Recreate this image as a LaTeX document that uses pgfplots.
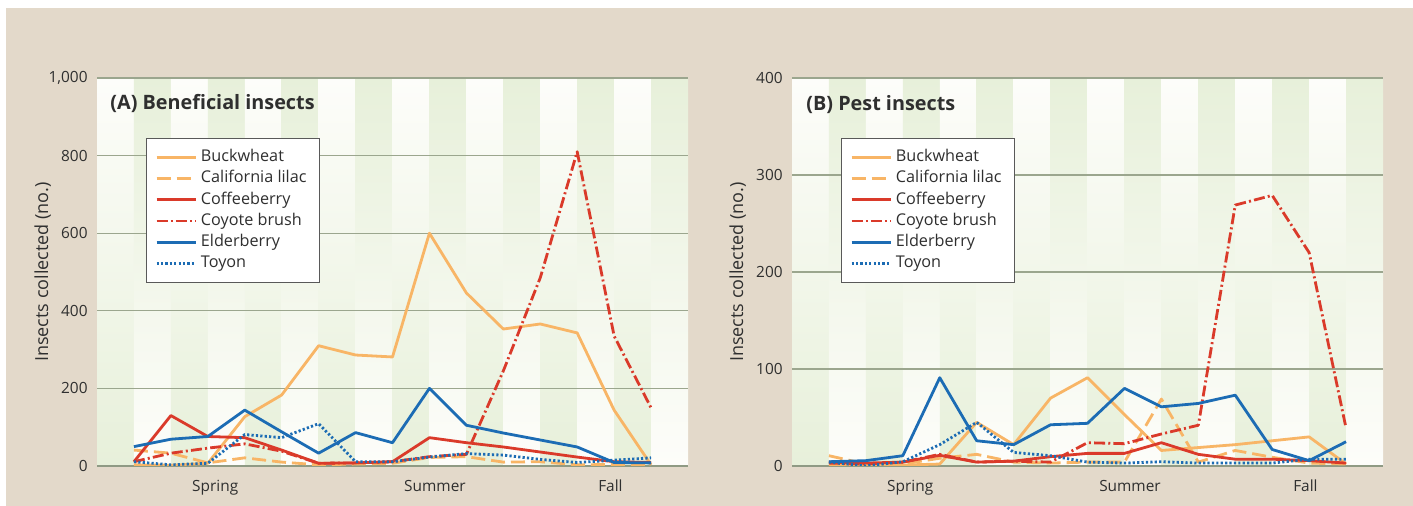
\documentclass[border=0pt]{standalone}
\usepackage{pgfplots}
\usepackage{pgfplotstable}
\pgfplotsset{compat=1.18}
\usepackage{fontspec}
\setmainfont{Open Sans}
\definecolor{beige}{HTML}{E3D9CA}
\definecolor{stripeG}{HTML}{E7F0DA}
\definecolor{stripeW}{HTML}{FDFDFA}
\definecolor{gridc}{HTML}{9BA68E}
\definecolor{axisc}{HTML}{8F9A84}
\definecolor{textc}{HTML}{2F2F2F}
\definecolor{orng}{HTML}{F8B566}
\definecolor{redc}{HTML}{DA3A2A}
\definecolor{bluec}{HTML}{1C6CB4}
\pgfdeclarelayer{bg}
\pgfplotsset{
 layers/mylayers/.define layer set={bg,axis background,axis grid,axis ticks,axis lines,axis tick labels,main,axis descriptions,axis foreground}{
   grid style={/pgfplots/on layer=axis grid},
   tick style={/pgfplots/on layer=axis ticks},
   axis line style={/pgfplots/on layer=axis lines},
   label style={/pgfplots/on layer=axis descriptions},
   legend style={/pgfplots/on layer=axis descriptions},
   title style={/pgfplots/on layer=axis descriptions},
   colorbar style={/pgfplots/on layer=axis descriptions},
   ticklabel style={/pgfplots/on layer=axis tick labels},
   axis background@ style={/pgfplots/on layer=axis background},
   3d box foreground style={/pgfplots/on layer=axis foreground},
 },
 set layers=mylayers,
}
\pgfplotstableread{
x bw cl cb cy eb ty
1 3 41 11 11 50 11
2 2 33 130 33 69 3
3 7 8 76 46 76 7
4 127 21 73 57 144 81
5 183 10 41 38 88 73
6 310 3 7 7 33 109
7 286 5 8 8 86 11
8 281 7 11 11 60 11
9 600 22 73 24 200 23
10 446 24 60 30 105 32
11 353 10 49 245 85 28
12 366 11 36 485 67 17
13 343 3 23 810 49 9
14 144 4 11 335 9 15
15 3 3 9 150 8 21
}\benef
\pgfplotstableread{
x bw cl cb cy eb ty
1 1 10.6 4 3 4.4 4
2 1 2 3 2 5.5 0
3 1 2 4 4 10.6 4.4
4 2 8 11 12 91 22
5 45 12 4 4 26 45
6 22 4 5 5 22 14
7 70 3 9.6 4 42.5 10.6
8 91 4 13 24 44 4
9 53 4 13 23 80 3
10 16 69 24 33 61 4.4
11 19 4 12 42 64.5 3
12 22 16 7 269 73 3
13 26 9 7 279 17 3
14 30 3 5.5 220 5.5 7
15 2 2 3 39 25 7
}\pest
\pgfplotsset{
 myax/.style={
  scale only axis, width=295.5pt, height=194pt, anchor=south west,
  xmin=0, xmax=16, ymin=0,
  axis x line*=bottom, axis y line*=left,
  y axis line style={draw=none},
  x axis line style={draw=axisc, line width=0.8pt, -},
  major tick length=0pt,
  xtick={3.2,9.15,13.9}, xticklabels={Spring,Summer,Fall},
  xticklabel style={anchor=base, yshift=-13pt, font=\fontsize{7.7}{9}\selectfont, text=textc},
  yticklabel style={anchor=east, inner sep=0pt, xshift=-4.5pt, font=\fontsize{7.7}{9}\selectfont, text=textc, /pgf/number format/1000 sep={,}},
  /pgf/number format/assume math mode=true,
  ymajorgrids, grid style={draw=gridc, line width=0.65pt},
  ylabel={Insects collected (no.)},
  every axis y label/.style={at={(axis description cs:-0.092,0.5)}, rotate=90, anchor=center, font=\fontsize{9}{11}\selectfont, text=textc},
  legend cell align=left,
  legend style={at={(rel axis cs:0.083,0.845)}, anchor=north west, draw=textc!80, line width=0.5pt, fill=white,
     font=\fontsize{8.1}{9}\selectfont, text=textc, inner xsep=4.3pt, inner ysep=4.1pt,
     nodes={text height=5.8pt, text depth=1.6pt, inner ysep=1.6pt}},
  legend image code/.code={\draw[##1] (0pt,0pt) -- (19.5pt,0pt);},
 },
 bw/.style={orng, solid, line width=1.4pt, line join=round},
 cl/.style={orng, line width=1.4pt, line join=round, dash pattern=on 7pt off 3pt},
 cb/.style={redc, solid, line width=1.4pt, line join=round},
 cy/.style={redc, line width=1.4pt, line join=round, dash pattern=on 5.5pt off 1.6pt on 1pt off 1.6pt},
 eb/.style={bluec, solid, line width=1.4pt, line join=round},
 ty/.style={bluec, line width=1.4pt, line join=round, dash pattern=on 1.1pt off 1.1pt},
}
\begin{document}
\begin{tikzpicture}
\begin{pgfonlayer}{bg}
\fill[white] (0,0) rectangle (706.5pt,253pt);
\fill[beige] (3pt,0) rectangle (706.5pt,249pt);
\end{pgfonlayer}
% Panel A
\begin{axis}[myax, at={(48.5pt,20pt)}, ymax=1000, ytick={0,200,...,1000}]
\pgfplotsinvokeforeach{0,2,...,14}{
 \begin{pgfonlayer}{axis background}
 \fill[top color=stripeW, bottom color=stripeG] (axis cs:#1,0) rectangle (axis cs:#1+1,1000);
 \fill[top color=stripeG, bottom color=stripeW] (axis cs:#1+1,0) rectangle (axis cs:#1+2,1000);
 \end{pgfonlayer}
}
\addplot[bw] table[x=x,y=bw]{\benef};
\addplot[cl] table[x=x,y=cl]{\benef};
\addplot[cb] table[x=x,y=cb]{\benef};
\addplot[cy] table[x=x,y=cy]{\benef};
\addplot[eb] table[x=x,y=eb]{\benef};
\addplot[ty] table[x=x,y=ty]{\benef};
\legend{Buckwheat,California lilac,Coffeeberry,Coyote brush,Elderberry,Toyon}
\node[anchor=base west, inner sep=0pt, font=\bfseries\fontsize{9.9}{11}\selectfont, text=textc] at (rel axis cs:0.022,0.9175) {(A) Beneficial insects};
\end{axis}
% Panel B
\begin{axis}[myax, at={(396pt,20pt)}, ymax=400, ytick={0,100,...,400}]
\pgfplotsinvokeforeach{0,2,...,14}{
 \begin{pgfonlayer}{axis background}
 \fill[top color=stripeW, bottom color=stripeG] (axis cs:#1,0) rectangle (axis cs:#1+1,400);
 \fill[top color=stripeG, bottom color=stripeW] (axis cs:#1+1,0) rectangle (axis cs:#1+2,400);
 \end{pgfonlayer}
}
\addplot[bw] table[x=x,y=bw]{\pest};
\addplot[cl] table[x=x,y=cl]{\pest};
\addplot[cb] table[x=x,y=cb]{\pest};
\addplot[cy] table[x=x,y=cy]{\pest};
\addplot[eb] table[x=x,y=eb]{\pest};
\addplot[ty] table[x=x,y=ty]{\pest};
\legend{Buckwheat,California lilac,Coffeeberry,Coyote brush,Elderberry,Toyon}
\node[anchor=base west, inner sep=0pt, font=\bfseries\fontsize{9.9}{11}\selectfont, text=textc] at (rel axis cs:0.0237,0.9175) {(B) Pest insects};
\end{axis}
\end{tikzpicture}
\end{document}
